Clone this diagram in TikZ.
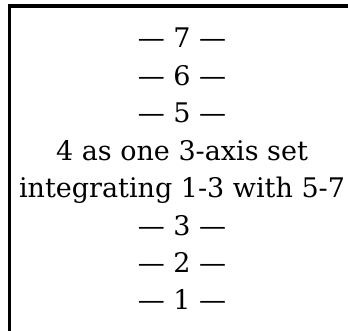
\documentclass[tikz,border=0pt]{standalone}
\usepackage{fontspec}
\setmainfont{DejaVu Serif}
\usetikzlibrary{positioning}
\tikzset{
	stackline/.style={anchor=base, inner sep=0pt, font=\fontsize{27}{37}\selectfont},
	frameline/.style={line width=3.6pt, line join=miter}
}

\begin{document}
\begin{tikzpicture}[x=1pt, y=1pt]
	
	\useasboundingbox (0,0) rectangle (348,330);
	
	% -- frame, only top and left edges fall inside the page --------
	\draw[frameline] (9.3,-20) -- (9.3,324) -- (380,324);
	
	% -- stacked lines, top down ------------------------------------
	\foreach \txt [count=\i] in {%
		{— 7 —},
		{— 6 —},
		{— 5 —},
		{4 as one 3-axis set},
		{integrating 1-3 with 5-7},
		{— 3 —},
		{— 2 —},
		{— 1 —}}{%
		\node[stackline] (line\i) at (182,{282-(\i-1)*37.4}) {\txt};
	}
	
\end{tikzpicture}
\end{document}
